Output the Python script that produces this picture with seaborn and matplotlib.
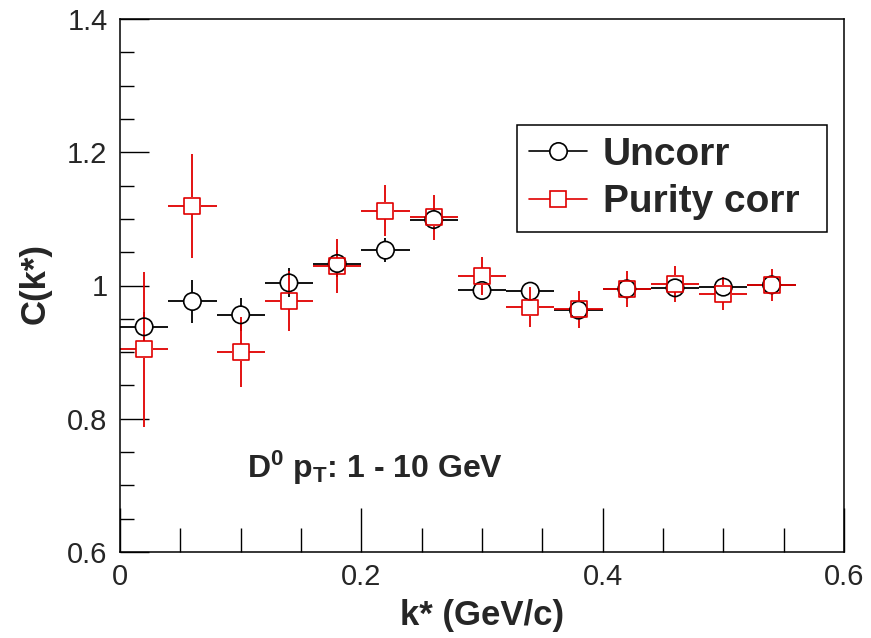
import numpy as np
import matplotlib
matplotlib.use("Agg")
import matplotlib.pyplot as plt
from matplotlib.lines import Line2D
from matplotlib.ticker import MultipleLocator, FixedLocator
import seaborn as sns

# ---------------- data ----------------
k_star = [0.02, 0.06, 0.10, 0.14, 0.18, 0.22, 0.26, 0.30, 0.34, 0.38, 0.42, 0.46, 0.50, 0.54]
k_halfwidth = [0.02] * 14
c_uncorr = [0.938, 0.976, 0.956, 1.004, 1.033, 1.053, 1.099, 0.9925, 0.9915, 0.963, 0.995, 0.9965, 0.9975, 1.001]
err_uncorr = [0.022, 0.033, 0.025, 0.022, 0.020, 0.018, 0.016, 0.013, 0.012, 0.011, 0.011, 0.011, 0.010, 0.010]
c_purity = [0.904, 1.120, 0.900, 0.977, 1.029, 1.1125, 1.1025, 1.014, 0.967, 0.964, 0.995, 1.0025, 0.9875, 1.001]
err_purity = [0.116, 0.078, 0.053, 0.045, 0.041, 0.038, 0.034, 0.029, 0.030, 0.028, 0.027, 0.027, 0.025, 0.024]
series_names = ["Uncorr", "Purity corr"]
x_ticks = [0.0, 0.2, 0.4, 0.6]
y_ticks = [0.6, 0.8, 1.0, 1.2, 1.4]
y_tick_labels = ["0.6", "0.8", "1", "1.2", "1.4"]
x_tick_labels = ["0", "0.2", "0.4", "0.6"]

# ---------------- style ----------------
sns.set_theme(style="ticks")
plt.rcParams["font.family"] = ["Liberation Sans", "DejaVu Sans"]
plt.rcParams["mathtext.fontset"] = "custom"
plt.rcParams["mathtext.bf"] = "Liberation Sans:bold"
plt.rcParams["mathtext.rm"] = "Liberation Sans"
plt.rcParams["mathtext.it"] = "Liberation Sans:italic"

W, H = 871, 638
fig = plt.figure(figsize=(W / 100, H / 100), dpi=100)
ax_l, ax_r, ax_t, ax_b = 120, 844, 19, 552
ax = fig.add_axes([ax_l / W, 1 - ax_b / H, (ax_r - ax_l) / W, (ax_b - ax_t) / H])
ax.set_xlim(0, 0.6)
ax.set_ylim(0.6, 1.4)

# marker half size converted to data units (for gaps in error bars)
half_px = 8.5
gx = half_px * 0.6 / (ax_r - ax_l)
gy = half_px * 0.8 / (ax_b - ax_t)


def draw_series(x, y, ey, ex, color, marker, ms):
    x = np.asarray(x); y = np.asarray(y); ey = np.asarray(ey); ex = np.asarray(ex)
    m = ey > gy
    ax.vlines(x[m], y[m] + gy, y[m] + ey[m], color=color, lw=1.3, zorder=2)
    ax.vlines(x[m], y[m] - ey[m], y[m] - gy, color=color, lw=1.3, zorder=2)
    ax.hlines(y, x - ex, x - gx, color=color, lw=1.3, zorder=2)
    ax.hlines(y, x + gx, x + ex, color=color, lw=1.3, zorder=2)
    sns.scatterplot(x=x, y=y, ax=ax, marker=marker, s=ms ** 2,
                    facecolor="none", edgecolor=color, linewidth=1.2, zorder=3)


draw_series(k_star, c_uncorr, err_uncorr, k_halfwidth, "black", "o", 12.5)
draw_series(k_star, c_purity, err_purity, k_halfwidth, "#e00000", "s", 11.5)

# ---------------- axes ----------------
for s in ax.spines.values():
    s.set_linewidth(1.1)
    s.set_color("black")

ax.xaxis.set_major_locator(FixedLocator(x_ticks))
ax.xaxis.set_minor_locator(MultipleLocator(0.05))
ax.yaxis.set_major_locator(FixedLocator(y_ticks))
ax.yaxis.set_minor_locator(MultipleLocator(0.05))
ax.set_xticklabels(x_tick_labels)
ax.set_yticklabels(y_tick_labels)
ax.tick_params(axis="x", which="major", direction="in", length=32, width=1.0,
               labelsize=21, pad=8, color="black", top=False)
ax.tick_params(axis="x", which="minor", direction="in", length=17, width=1.0,
               color="black", top=False)
ax.tick_params(axis="y", which="major", direction="in", length=21, width=1.0,
               labelsize=21, pad=9, color="black", right=False)
ax.tick_params(axis="y", which="minor", direction="in", length=10, width=1.0,
               color="black", right=False)

ax.set_xlabel("k* (GeV/c)", fontsize=25, fontweight="bold", va="center")
ax.xaxis.set_label_coords(0.5, (ax_b - 616) / (ax_b - ax_t))
ax.set_ylabel("C(k*)", fontsize=25, fontweight="bold", va="center")
ax.yaxis.set_label_coords((35 - ax_l) / (ax_r - ax_l), (ax_b - 284) / (ax_b - ax_t))

# annotation
ax.text(0.105, 0.711, r"$\mathbf{D^{0}}$ $\mathbf{p_{T}}$: 1 - 10 GeV",
        fontsize=23, fontweight="bold", va="baseline", ha="left")

# legend
handles = [
    Line2D([0], [0], color="black", lw=1.2, marker="o", markersize=12.5,
           markerfacecolor="white", markeredgecolor="black", markeredgewidth=1.2),
    Line2D([0], [0], color="#e00000", lw=1.2, marker="s", markersize=11.5,
           markerfacecolor="white", markeredgecolor="#e00000", markeredgewidth=1.2),
]
x0 = (517 - ax_l) / (ax_r - ax_l)
x1 = (827 - ax_l) / (ax_r - ax_l)
y0 = (ax_b - 233) / (ax_b - ax_t)
y1 = (ax_b - 125) / (ax_b - ax_t)
leg = ax.legend(handles, series_names, loc="upper left",
                bbox_to_anchor=(x0, y0, x1 - x0, y1 - y0), mode="expand",
                borderaxespad=0,
                prop={"size": 28, "weight": "bold"},
                frameon=True, fancybox=False, edgecolor="black",
                handlelength=1.5, handletextpad=0.4, labelspacing=0.3,
                borderpad=0.3, framealpha=1)
leg.get_frame().set_linewidth(1.1)

fig.savefig("out.png", dpi=100)
